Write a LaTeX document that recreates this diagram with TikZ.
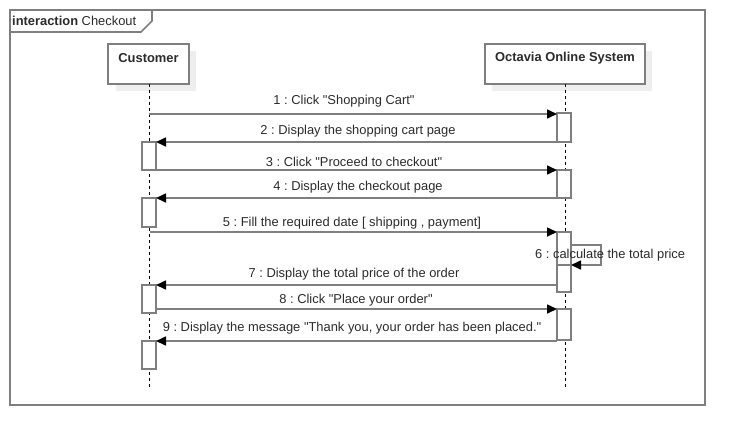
\documentclass[tikz,border=0pt]{standalone}
\usepackage{fontspec}
\setmainfont{Liberation Sans}[Ligatures=TeXOff]
\usetikzlibrary{arrows.meta}
\definecolor{ln}{HTML}{7F7F7F}
\definecolor{tx}{HTML}{2B2B2B}
\definecolor{sh}{HTML}{EEEEEE}
\frenchspacing
\begin{document}
\begin{tikzpicture}[x=1pt,y=-1pt,
  every node/.style={font=\fontsize{12.9}{14}\selectfont, text=tx, inner sep=0pt},
  frameline/.style={draw=ln, line width=1.6pt},
  headbox/.style={draw=ln, line width=1.4pt, fill=white},
  shadowbox/.style={fill=sh, draw=none},
  life/.style={draw=black, line width=0.9pt, dash pattern=on 3pt off 3pt},
  actbox/.style={draw=ln, line width=1.4pt, fill=white},
  msg/.style={draw=ln, line width=1.6pt, -{Triangle[length=10pt,width=9pt,color=black]}},
  lbl/.style={anchor=center}]
\useasboundingbox (0,0) rectangle (744,445);
% frame
\draw[frameline] (10,10) rectangle (705,405);
\draw[frameline] (10,10) -- (152,10) -- (152,21) -- (141,32) -- (10,32);
\node[anchor=west] (title) at (12,21) {\textbf{interaction} Checkout};
% heads with shadows
\fill[shadowbox] (116,51) rectangle (196,91);
\fill[shadowbox] (492,51) rectangle (652,91);
\draw[headbox] (108,44) rectangle (189,84);
\draw[headbox] (485,44) rectangle (645,84);
\node (cust) at (148.5,58) {\textbf{Customer}};
\node (sys) at (565,58) {\textbf{Octavia Online System}};
\coordinate (cTop) at (149,84);
\coordinate (cBot) at (149,388);
\coordinate (sTop) at (565,84);
\coordinate (sBot) at (565,388);
\draw[life] (cTop) -- (cBot);
\draw[life] (sTop) -- (sBot);
% activations
\draw[actbox] (557,113) rectangle (571,142);
\draw[actbox] (142,142) rectangle (156,170);
\draw[actbox] (557,170) rectangle (571,198);
\draw[actbox] (142,198) rectangle (156,227);
\draw[actbox] (557,232) rectangle (571,265);
\draw[actbox] (557,265) rectangle (571,292);
\draw[actbox] (142,285) rectangle (156,313);
\draw[actbox] (557,309) rectangle (571,340);
\draw[actbox] (142,341) rectangle (156,369);
% message end points
\coordinate (m1a) at (149,114); \coordinate (m1b) at (557,114);
\coordinate (m2a) at (557,142); \coordinate (m2b) at (156,142);
\coordinate (m3a) at (156,170); \coordinate (m3b) at (557,170);
\coordinate (m4a) at (557,198); \coordinate (m4b) at (156,198);
\coordinate (m5a) at (150,232); \coordinate (m5b) at (557,232);
\coordinate (m6a) at (571,245); \coordinate (m6b) at (571,265);
\coordinate (m7a) at (557,285); \coordinate (m7b) at (156,285);
\coordinate (m8a) at (156,309); \coordinate (m8b) at (557,309);
\coordinate (m9a) at (557,341); \coordinate (m9b) at (156,341);
\draw[msg] (m1a) -- (m1b);
\draw[msg] (m2a) -- (m2b);
\draw[msg] (m3a) -- (m3b);
\draw[msg] (m4a) -- (m4b);
\draw[msg] (m5a) -- (m5b);
\draw[msg] (m6a) -- (601,245) -- (601,265) -- (m6b);
\draw[msg] (m7a) -- (m7b);
\draw[msg] (m8a) -- (m8b);
\draw[msg] (m9a) -- (m9b);
% labels
\node[lbl] (l1) at (344,101) {1 : Click "Shopping Cart"};
\node[lbl] (l2) at (358,131.5) {2 : Display the shopping cart page};
\node[lbl] (l3) at (354,161.5) {3 : Click "Proceed to checkout"};
\node[lbl] (l4) at (358,187.5) {4 : Display the checkout page};
\node[lbl] (l5) at (352,223.5) {5 : Fill the required date [ shipping , payment]};
\node[lbl,anchor=west] (l6) at (535,255.5) {6 : calculate the total price};
\node[lbl] (l7) at (354,274.5) {7 : Display the total price of the order};
\node[lbl] (l8) at (356,300.5) {8 : Click "Place your order"};
\node[lbl] (l9) at (352,328.5) {9 : Display the message "Thank you, your order has been placed."};
\end{tikzpicture}
\end{document}
